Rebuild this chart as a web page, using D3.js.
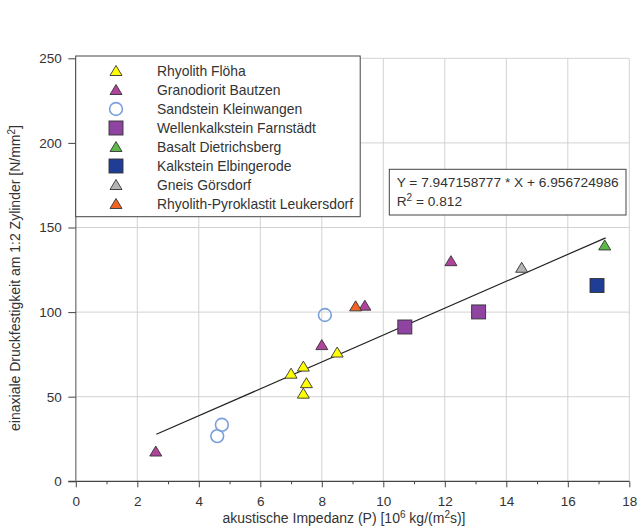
<!DOCTYPE html>
<html><head><meta charset="utf-8">
<script src="https://cdn.jsdelivr.net/npm/d3@7"></script>
<style>body{margin:0;background:#fff}svg{display:block}text{font-family:"Liberation Sans",Arial,sans-serif;fill:#333}</style>
</head><body><svg id="c" width="637" height="531"></svg>
<script>
const seriesNames = ["Rhyolith Flöha","Granodiorit Bautzen","Sandstein Kleinwangen","Wellenkalkstein Farnstädt","Basalt Dietrichsberg","Kalkstein Elbingerode","Gneis Görsdorf","Rhyolith-Pyroklastit Leukersdorf"];
const rhyolithX = [7.0, 7.4, 7.5, 7.4, 8.5];
const rhyolithY = [63.6, 67.8, 58.0, 51.8, 76.1];
const granodioritX = [2.6, 8.0, 9.4, 12.2];
const granodioritY = [17.6, 80.5, 103.8, 130.1];
const sandsteinX = [4.6, 4.75, 8.1];
const sandsteinY = [26.7, 33.4, 98.3];
const wellenkalkX = [10.7, 13.1];
const wellenkalkY = [91.2, 100.1];
const basaltX = [17.2];
const basaltY = [139.4];
const kalksteinX = [16.95];
const kalksteinY = [115.7];
const gneisX = [14.5];
const gneisY = [126.2];
const pyroklastitX = [9.1];
const pyroklastitY = [103.4];
const fitSlope = 7.947158777, fitIntercept = 6.956724986;
const fitRange = [2.62, 17.23];
const xTicks = [0,2,4,6,8,10,12,14,16,18];
const yTicks = [0,50,100,150,200,250];

const styles = [
  {shape:"tri", fill:"#ffff00"},
  {shape:"tri", fill:"#b0449c"},
  {shape:"circ", fill:"none"},
  {shape:"sq", fill:"#8e44a0"},
  {shape:"tri", fill:"#5cb848"},
  {shape:"sq", fill:"#1f3d94"},
  {shape:"tri", fill:"#b4b4b4"},
  {shape:"tri", fill:"#f06424"}
];
const seriesX = [rhyolithX, granodioritX, sandsteinX, wellenkalkX, basaltX, kalksteinX, gneisX, pyroklastitX];
const seriesY = [rhyolithY, granodioritY, sandsteinY, wellenkalkY, basaltY, kalksteinY, gneisY, pyroklastitY];

const svg = d3.select("#c");
const L = 75.8, R = 629.3, T = 58.3, B = 481.3;
const x = d3.scaleLinear().domain([0,18]).range([L,R]);
const y = d3.scaleLinear().domain([0,250]).range([B,T]);

// grid
svg.append("g").selectAll("line").data(xTicks.filter(d=>d>0)).join("line")
  .attr("x1",d=>x(d)).attr("x2",d=>x(d)).attr("y1",T).attr("y2",B)
  .attr("stroke","#d2d2d2").attr("stroke-width",1);
svg.append("g").selectAll("line").data(yTicks.filter(d=>d>0)).join("line")
  .attr("x1",L).attr("x2",R).attr("y1",d=>y(d)).attr("y2",d=>y(d))
  .attr("stroke","#d2d2d2").attr("stroke-width",1);

// axes
const xAxis = svg.append("g").attr("transform",`translate(0,${B})`)
  .call(d3.axisBottom(x).tickValues(xTicks).tickSize(6).tickPadding(9.5).tickFormat(d3.format("d")));
const xMinor = svg.append("g").attr("transform",`translate(0,${B})`)
  .call(d3.axisBottom(x).tickValues(d3.range(1,18,2)).tickSize(3).tickFormat(""));
xMinor.select(".domain").remove();
const yAxis = svg.append("g").attr("transform",`translate(${L},0)`)
  .call(d3.axisLeft(y).tickValues(yTicks).tickSize(7.5).tickPadding(6.5));
[xAxis,xMinor,yAxis].forEach(g=>{
  g.selectAll("text").style("font-size","13.5px").attr("fill","#333");
  g.selectAll("line").attr("stroke","#444");
});
xAxis.select(".domain").attr("stroke","#444").attr("stroke-width",1.2).attr("d",`M${L-7.5},0H${R}`);
yAxis.select(".domain").attr("stroke","#888").attr("stroke-width",1.5).attr("d",`M0,${T}V${B}`);

// fit line
svg.append("line")
  .attr("x1",x(fitRange[0])).attr("y1",y(fitSlope*fitRange[0]+fitIntercept))
  .attr("x2",x(fitRange[1])).attr("y2",y(fitSlope*fitRange[1]+fitIntercept))
  .attr("stroke","#222").attr("stroke-width",1.2);

function marker(g, st, cx, cy){
  if(st.shape==="tri"){
    g.append("path").attr("d",`M${cx},${cy-5.5}L${cx+6},${cy+4.5}L${cx-6},${cy+4.5}Z`)
      .attr("fill",st.fill).attr("stroke","#333").attr("stroke-width",0.9);
  } else if(st.shape==="sq"){
    g.append("rect").attr("x",cx-7).attr("y",cy-7).attr("width",14).attr("height",14)
      .attr("fill",st.fill).attr("stroke","#333").attr("stroke-width",0.9);
  } else {
    g.append("circle").attr("cx",cx).attr("cy",cy).attr("r",6.4)
      .attr("fill","none").attr("stroke","#7a9fdb").attr("stroke-width",1.6);
  }
}

// points
const pts = svg.append("g");
seriesX.forEach((xs,i)=>{
  xs.forEach((xv,j)=>marker(pts, styles[i], x(xv), y(seriesY[i][j])));
});

// legend
const lg = svg.append("g");
lg.append("rect").attr("x",75.7).attr("y",56).attr("width",284.5).attr("height",160.7)
  .attr("fill","#fff").attr("stroke","#444").attr("stroke-width",1);
seriesNames.forEach((n,i)=>{
  const cy = 71 + i*19;
  marker(lg, styles[i], 116, cy);
  lg.append("text").attr("x",157).attr("y",cy+5).style("font-size","13.9px").text(n);
});

// equation box
const eq = svg.append("g");
eq.append("rect").attr("x",389.3).attr("y",169.3).attr("width",236.7).attr("height",45.7)
  .attr("fill","#fff").attr("stroke","#444").attr("stroke-width",1);
eq.append("text").attr("x",396.7).attr("y",187).style("font-size","13.7px")
  .text(`Y = ${fitSlope} * X + ${fitIntercept}`);
const r2 = eq.append("text").attr("x",396.7).attr("y",206).style("font-size","13.7px");
r2.append("tspan").text("R");
r2.append("tspan").attr("dy",-5.5).style("font-size","10px").text("2");
r2.append("tspan").attr("dy",5.5).text(" = 0.812");

// axis titles
const xt = svg.append("text").attr("x",344).attr("y",523).attr("text-anchor","middle").style("font-size","14px");
xt.append("tspan").text("akustische Impedanz (P) [10");
xt.append("tspan").attr("dy",-5.5).style("font-size","10px").text("6");
xt.append("tspan").attr("dy",5.5).text(" kg/(m");
xt.append("tspan").attr("dy",-5.5).style("font-size","10px").text("2");
xt.append("tspan").attr("dy",5.5).text("s)]");

const yt = svg.append("text").attr("transform",`translate(20,278) rotate(-90)`).attr("text-anchor","middle").style("font-size","14px");
yt.append("tspan").text("einaxiale Druckfestigkeit am 1:2 Zylinder [N/mm");
yt.append("tspan").attr("dy",-5.5).style("font-size","10px").text("2");
yt.append("tspan").attr("dy",5.5).text("]");
</script></body></html>
